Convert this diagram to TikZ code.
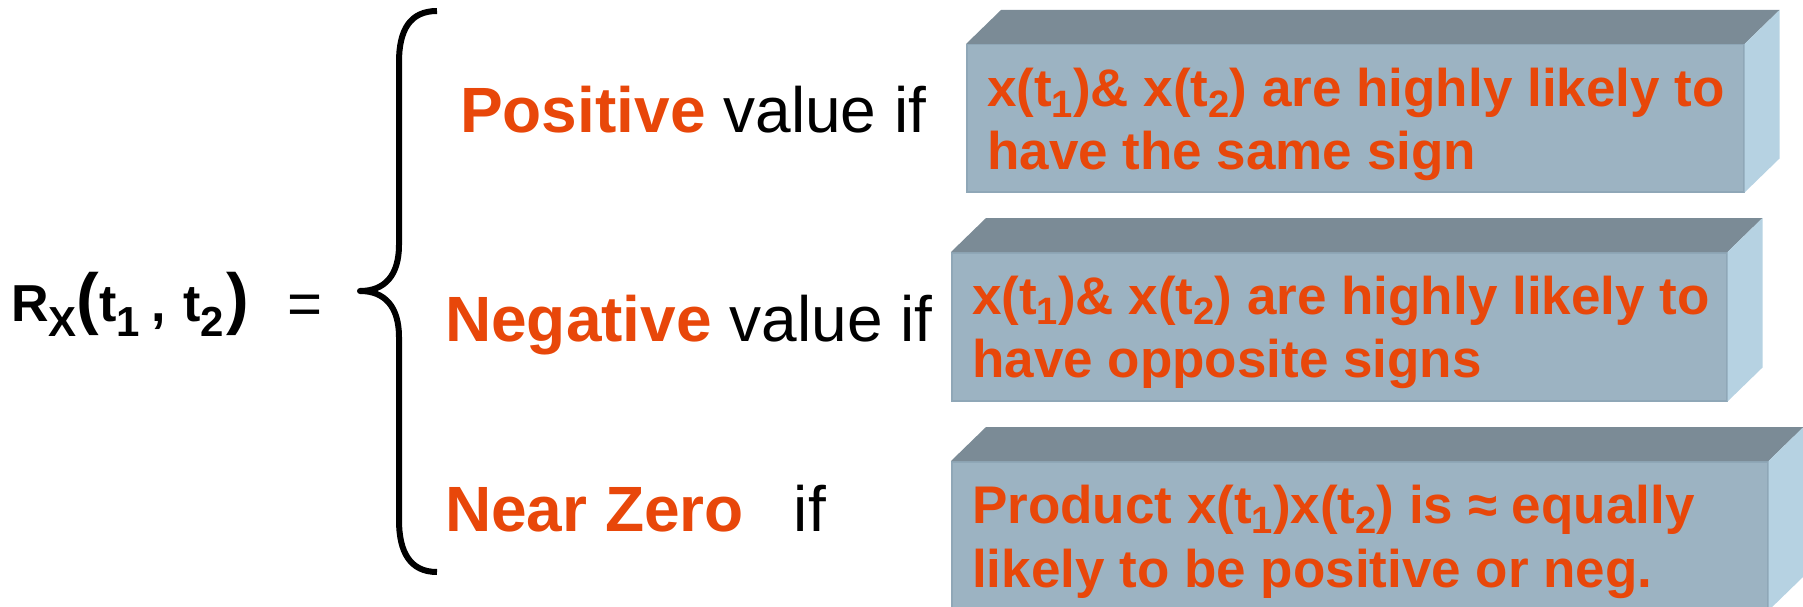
\documentclass[tikz,border=0pt]{standalone}
\usepackage{fontspec}
\setmainfont{Liberation Sans}
\usepackage{graphicx}
\usetikzlibrary{calc}

\definecolor{accent}{HTML}{E8470A}
\definecolor{facefront}{HTML}{9CB3C2}
\definecolor{faceedge}{HTML}{8FA7B7}
\definecolor{facetop}{HTML}{7B8B96}
\definecolor{faceside}{HTML}{B6D2E2}

% lowered, reduced index in running text
\newcommand\lowsub[1]{\raisebox{-0.2em}{\scalebox{0.72}{#1}}}
% indices and stretched parentheses of the left-hand side
\newcommand\lhsub[1]{\raisebox{-15pt}{\fontsize{42}{48}\selectfont #1}}
\newcommand\tallparen[1]{{\fontsize{68}{70}\selectfont #1}}

\tikzset{
  slabfront/.style={fill=facefront, draw=faceedge, line width=1.5pt,
    inner sep=0pt, anchor=north west},
  caselbl/.style={anchor=base west, inner sep=0pt,
    font=\fontsize{64}{70}\selectfont},
  slabtxt/.style={anchor=base west, inner sep=0pt, text=accent,
    font=\fontsize{53}{58}\selectfont\bfseries},
  bracepen/.style={line width=6pt, line join=round},
}

% top and right faces of a slab whose front face is node #1
\newcommand\slabsides[1]{%
  \fill[facetop] (#1.north west) -- ($(#1.north west)+(35,-34)$)
    -- ($(#1.north east)+(35,-34)$) -- (#1.north east) -- cycle;
  \fill[faceside] (#1.north east) -- ($(#1.north east)+(35,-34)$)
    -- ($(#1.south east)+(35,-34)$) -- (#1.south east) -- cycle;}

\begin{document}
\begin{tikzpicture}[x=1pt,y=-1pt]
\useasboundingbox (0,0) rectangle (1803,607);

% left-hand side
\node[anchor=base west, inner sep=0pt, font=\fontsize{52}{60}\selectfont\bfseries]
  (lhs) at (11,321)
  {R\lhsub{X}\tallparen{(}t\lhsub{1}\hspace{11pt},\hspace{18pt}t\lhsub{2}\hspace{2pt}\tallparen{)}};
\node[anchor=base west, inner sep=0pt, font=\fontsize{60}{66}\selectfont]
  (eqsign) at (287,324) {=};

% curly brace
\draw[bracepen] (437,11) .. controls (410,11) and (399,30) .. (399,62)
  -- (399,245) .. controls (399,275) and (385,291) .. (360,291)
  .. controls (385,291) and (399,307) .. (399,337)
  -- (399,520) .. controls (399,552) and (410,572) .. (437,572);

% case labels
\node[caselbl] (poslbl) at (460,132) {\textbf{\textcolor{accent}{Positive}} value if};
\node[caselbl] (neglbl) at (445,341) {\textbf{\textcolor{accent}{Negative}} value if};
\node[caselbl] (zerolbl) at (445,531) {\textbf{\textcolor{accent}{Near Zero}}\hspace{50pt}if};

% slabs
\node[slabfront, minimum width=777pt, minimum height=147pt] (slabA) at (966,44) {};
\slabsides{slabA}
\node[slabfront, minimum width=775pt, minimum height=148pt] (slabB) at (951,252) {};
\slabsides{slabB}
\node[slabfront, minimum width=816pt, minimum height=148pt] (slabC) at (951,461) {};
\slabsides{slabC}

% slab texts
\node[slabtxt] (txtA1) at (987,107) {x(t\lowsub{1})\& x(t\lowsub{2}) are highly likely to};
\node[slabtxt] (txtA2) at (987,169) {have the same sign};
\node[slabtxt] (txtB1) at (972,314) {x(t\lowsub{1})\& x(t\lowsub{2}) are highly likely to};
\node[slabtxt] (txtB2) at (972,377) {have opposite signs};
\node[slabtxt] (txtC1) at (972,523) {Product x(t\lowsub{1})x(t\lowsub{2}) is ≈ equally};
\node[slabtxt] (txtC2) at (972,587) {likely to be positive or neg.};
\end{tikzpicture}
\end{document}
